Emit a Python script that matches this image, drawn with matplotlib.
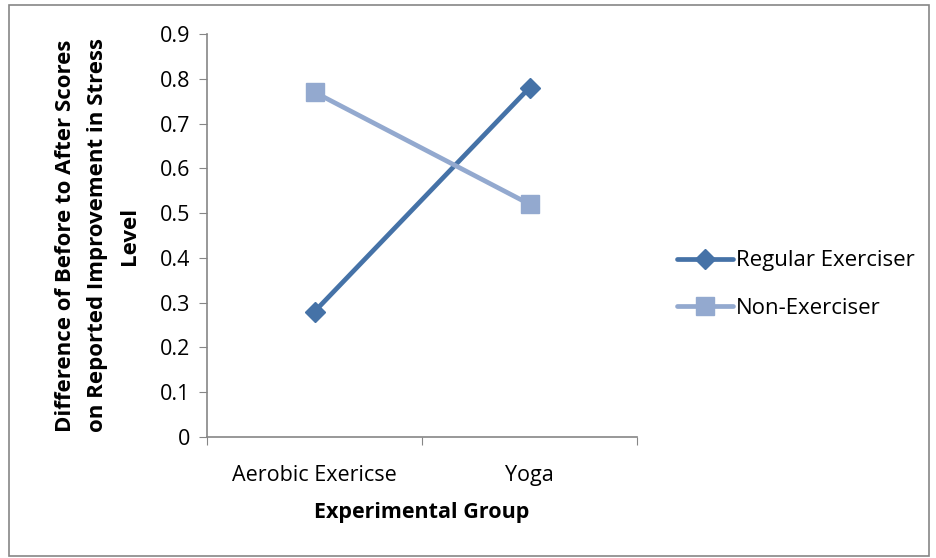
import matplotlib
matplotlib.use("Agg")
import matplotlib.pyplot as plt
from matplotlib.patches import Rectangle

groups = ["Aerobic Exericse", "Yoga"]
regular = [0.28, 0.78]
non_ex = [0.77, 0.52]
yticks = [0, 0.1, 0.2, 0.3, 0.4, 0.5, 0.6, 0.7, 0.8, 0.9]

plt.rcParams["font.family"] = ["Open Sans", "DejaVu Sans"]

fig = plt.figure(figsize=(9.37, 5.58), dpi=100)
ax = fig.add_axes([207/937, 1-437/558, 430/937, 403/558])

xs = [0.5, 1.5]
ax.plot(xs, regular, color="#4572A7", lw=3.4, marker="D", ms=10,
        label="Regular Exerciser", solid_capstyle="round")
ax.plot(xs, non_ex, color="#93A9CF", lw=3.4, marker="s", ms=12.5,
        label="Non-Exerciser", solid_capstyle="round")

ax.set_xlim(0, 2)
ax.set_ylim(0, 0.9)
ax.set_yticks(yticks)
ax.set_yticklabels(["0" if v == 0 else f"{v:.1f}" for v in yticks])
ax.set_xticks([0, 1, 2])
ax.set_xticklabels([])
ax.set_xticks(xs, minor=True)
ax.set_xticklabels(groups, minor=True)
ax.tick_params(axis="x", which="minor", length=0, pad=20, labelsize=15.5)
ax.tick_params(axis="x", which="major", length=6, color="#868686", direction="out")
ax.tick_params(axis="y", length=6, color="#868686", direction="out", labelsize=15.5, pad=6)

for s in ["top", "right"]:
    ax.spines[s].set_visible(False)
for s in ["left", "bottom"]:
    ax.spines[s].set_color("#868686")
    ax.spines[s].set_linewidth(1.2)

ax.set_xlabel("Experimental Group", fontsize=15.5, fontweight="bold", labelpad=12)
ax.set_ylabel("Difference of Before to After Scores\non Reported Improvement in Stress\nLevel",
              fontsize=16, fontweight="bold", labelpad=14, linespacing=1.7)

ax.legend(loc="center left", bbox_to_anchor=(1.047, 0.378), frameon=False,
          fontsize=16, handlelength=2.5, labelspacing=1.2, handletextpad=0.15)

fig.patches.append(Rectangle((9/937, 2/558), 920/937, 551/558, transform=fig.transFigure,
                             fill=False, edgecolor="#868686", lw=1.2))

fig.savefig("out.png", dpi=100)
